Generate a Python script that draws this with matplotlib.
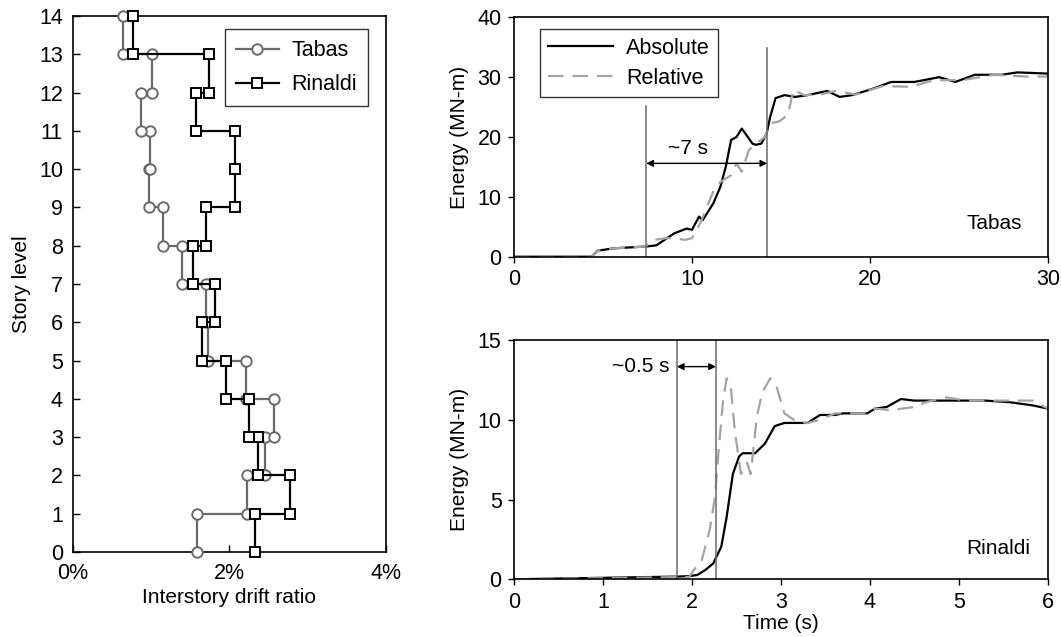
import matplotlib.pyplot as plt
from matplotlib.ticker import FuncFormatter

plt.rcParams['font.family'] = ['Liberation Sans', 'DejaVu Sans']
plt.rcParams['font.size'] = 15

# Peak interstory drift per story (%), stories 1..14 from the ground up
levels = list(range(15))
tabas_drift = [1.59, 2.23, 2.45, 2.57, 2.21, 1.73, 1.70, 1.40, 1.15, 0.98, 0.99, 0.87, 1.01, 0.645]
rinaldi_drift = [2.33, 2.78, 2.37, 2.25, 1.96, 1.65, 1.82, 1.53, 1.70, 2.07, 2.07, 1.57, 1.74, 0.775]

# Tabas input energy (MN-m)
tabas_abs_t = [0, 4.35, 4.7, 5.6, 7.4, 8.0, 8.5, 9.0, 9.7, 10.0, 10.4, 10.6, 11.2, 11.6, 11.9, 12.2,
               12.5, 12.8, 13.0, 13.4, 13.6, 13.9, 14.2, 14.4, 14.7, 15.2, 15.8, 16.5, 17.6, 18.3,
               19.0, 20.1, 21.2, 22.5, 23.9, 24.8, 25.9, 27.4, 28.3, 30.0]
tabas_abs_e = [0, 0, 1.0, 1.4, 1.7, 1.9, 2.9, 3.9, 4.7, 4.5, 6.7, 6.1, 8.9, 11.7, 15.0, 19.5,
               20.0, 21.4, 20.6, 18.9, 18.7, 18.9, 20.6, 23.4, 26.5, 27.0, 26.7, 27.0, 27.7, 26.7,
               27.0, 28.0, 29.2, 29.2, 30.0, 29.2, 30.4, 30.4, 30.8, 30.6]
tabas_rel_t = [0, 4.35, 4.7, 5.6, 7.4, 7.8, 8.6, 9.1, 9.6, 10.0, 10.5, 11.2, 11.6, 12.2, 12.5,
               12.8, 13.2, 13.6, 14.1, 14.4, 14.9, 15.4, 15.7, 16.3, 17.2, 18.1, 19.2, 20.7,
               22.3, 23.6, 25.2, 27.0, 28.8, 30.0]
tabas_rel_e = [0, 0, 1.0, 1.4, 1.7, 2.8, 3.1, 3.1, 2.8, 3.1, 5.8, 10.9, 12.5, 13.6, 15.6,
               14.2, 17.8, 18.9, 20.0, 22.3, 22.6, 23.7, 27.9, 27.0, 27.1, 27.7, 27.1, 28.5,
               28.4, 29.5, 29.5, 30.4, 30.1, 30.1]

# Rinaldi input energy (MN-m)
rinaldi_abs_t = [0, 1.4, 1.84, 1.97, 2.06, 2.15, 2.24, 2.33, 2.39, 2.46, 2.53, 2.57, 2.71, 2.82,
                 2.93, 3.04, 3.3, 3.44, 3.61, 3.7, 3.97, 4.06, 4.19, 4.35, 4.5, 4.72, 4.9, 5.3,
                 5.57, 5.83, 6.0]
rinaldi_abs_e = [0, 0.13, 0.17, 0.2, 0.27, 0.58, 1.0, 2.05, 3.9, 6.6, 7.7, 7.9, 7.9, 8.5,
                 9.6, 9.8, 9.8, 10.3, 10.3, 10.4, 10.4, 10.7, 10.8, 11.3, 11.2, 11.2, 11.2, 11.2,
                 11.1, 10.9, 10.7]
rinaldi_rel_t = [0, 1.4, 1.97, 2.02, 2.11, 2.2, 2.26, 2.3, 2.35, 2.39, 2.44, 2.48, 2.55, 2.62,
                 2.66, 2.73, 2.79, 2.88, 2.95, 3.04, 3.17, 3.3, 3.44, 3.61, 3.97, 4.06, 4.23,
                 4.5, 4.63, 4.86, 5.08, 5.39, 5.83, 6.0]
rinaldi_rel_e = [0, 0.1, 0.15, 0.58, 1.2, 3.1, 5.2, 8.1, 11.2, 12.6, 11.9, 9.4, 6.6, 7.3,
                 6.6, 10.2, 11.7, 12.6, 12.1, 10.4, 9.9, 9.8, 10.0, 10.4, 10.4, 10.7, 10.6,
                 10.8, 11.1, 11.4, 11.2, 11.2, 11.2, 10.7]

gray_line = '#6a6a6a'
gray_dash = '#a3a3a3'


def drift_profile(drift):
    # one vertical segment per story, joined by horizontal jumps at each floor
    xs, ys = [], []
    for k, d in enumerate(drift):
        xs += [d, d]
        ys += [levels[k], levels[k + 1]]
    return xs, ys


fig = plt.figure(figsize=(10.61, 6.37), dpi=100)

# drift profile
ax1 = fig.add_axes([0.0685, 0.1334, 0.2953, 0.8415])
x, y = drift_profile(tabas_drift)
ax1.plot(x, y, color=gray_line, lw=1.6, marker='o', ms=7.5, mfc='white', mec=gray_line,
         mew=1.4, label='Tabas', clip_on=False, zorder=3)
x, y = drift_profile(rinaldi_drift)
ax1.plot(x, y, color='black', lw=1.6, marker='s', ms=7, mfc='white', mec='black',
         mew=1.4, label='Rinaldi', clip_on=False, zorder=4)
ax1.set_xlim(0, 4)
ax1.set_ylim(0, 14)
ax1.set_xticks([0, 2, 4])
ax1.set_yticks(levels)
ax1.xaxis.set_major_formatter(FuncFormatter(lambda v, p: f'{v:.0f}%'))
ax1.tick_params(direction='in', length=5, width=1, pad=7, labelsize=15.5)
ax1.tick_params(axis='x', pad=8)
ax1.set_xlabel('Interstory drift ratio', labelpad=3)
ax1.set_ylabel('Story level', labelpad=6)
leg = ax1.legend(loc='upper right', bbox_to_anchor=(0.943, 0.975), borderaxespad=0,
                 fancybox=False, edgecolor='black', fontsize=15.5, handlelength=2.0,
                 borderpad=0.5, labelspacing=0.6, handletextpad=0.6)
leg.get_frame().set_linewidth(1.0)

# Tabas energy history
ax2 = fig.add_axes([0.4845, 0.597, 0.503, 0.3758])
ax2.plot(tabas_abs_t, tabas_abs_e, color='black', lw=1.6, label='Absolute')
ax2.plot(tabas_rel_t, tabas_rel_e, color=gray_dash, lw=1.6, dashes=(7, 4), label='Relative')
ax2.plot([7.43, 7.43], [0, 25.2], color=gray_line, lw=1.1)
ax2.plot([14.23, 14.23], [0, 34.8], color=gray_line, lw=1.1)
ax2.annotate('', xy=(7.43, 15.6), xytext=(14.23, 15.6),
             arrowprops=dict(arrowstyle='<|-|>', color='black', lw=1.0,
                             mutation_scale=10, shrinkA=0, shrinkB=0))
ax2.text(9.77, 18.0, '~7 s', ha='center', va='center')
ax2.text(0.952, 0.139, 'Tabas', transform=ax2.transAxes, ha='right', va='center')
ax2.set_xlim(0, 30)
ax2.set_ylim(0, 40)
ax2.set_xticks([0, 10, 20, 30])
ax2.set_yticks([0, 10, 20, 30, 40])
ax2.tick_params(direction='out', length=4, width=1, pad=5, labelsize=15.5)
ax2.set_ylabel('Energy (MN-m)', labelpad=6)
leg2 = ax2.legend(loc='upper left', bbox_to_anchor=(0.048, 0.95), borderaxespad=0,
                  fancybox=False, edgecolor='black', fontsize=15.5, handlelength=3.0,
                  borderpad=0.4, labelspacing=0.4, handletextpad=0.6)
leg2.get_frame().set_linewidth(1.0)

# Rinaldi energy history
ax3 = fig.add_axes([0.4845, 0.0906, 0.503, 0.3757])
ax3.plot(rinaldi_abs_t, rinaldi_abs_e, color='black', lw=1.6)
ax3.plot(rinaldi_rel_t, rinaldi_rel_e, color=gray_dash, lw=1.6, dashes=(7, 4))
ax3.axvline(1.83, color=gray_line, lw=1.1)
ax3.axvline(2.27, color=gray_line, lw=1.1)
ax3.annotate('', xy=(1.83, 13.33), xytext=(2.27, 13.33),
             arrowprops=dict(arrowstyle='<|-|>', color='black', lw=1.0,
                             mutation_scale=10, shrinkA=0, shrinkB=0))
ax3.text(1.75, 13.33, '~0.5 s', ha='right', va='center')
ax3.text(0.968, 0.127, 'Rinaldi', transform=ax3.transAxes, ha='right', va='center')
ax3.set_xlim(0, 6)
ax3.set_ylim(0, 15)
ax3.set_xticks(range(7))
ax3.set_yticks([0, 5, 10, 15])
ax3.tick_params(direction='out', length=4, width=1, pad=5, labelsize=15.5)
ax3.set_xlabel('Time (s)', labelpad=1)
ax3.set_ylabel('Energy (MN-m)', labelpad=6)

for ax in (ax1, ax2, ax3):
    for s in ax.spines.values():
        s.set_linewidth(1.2)

fig.savefig('out.png', dpi=100)
